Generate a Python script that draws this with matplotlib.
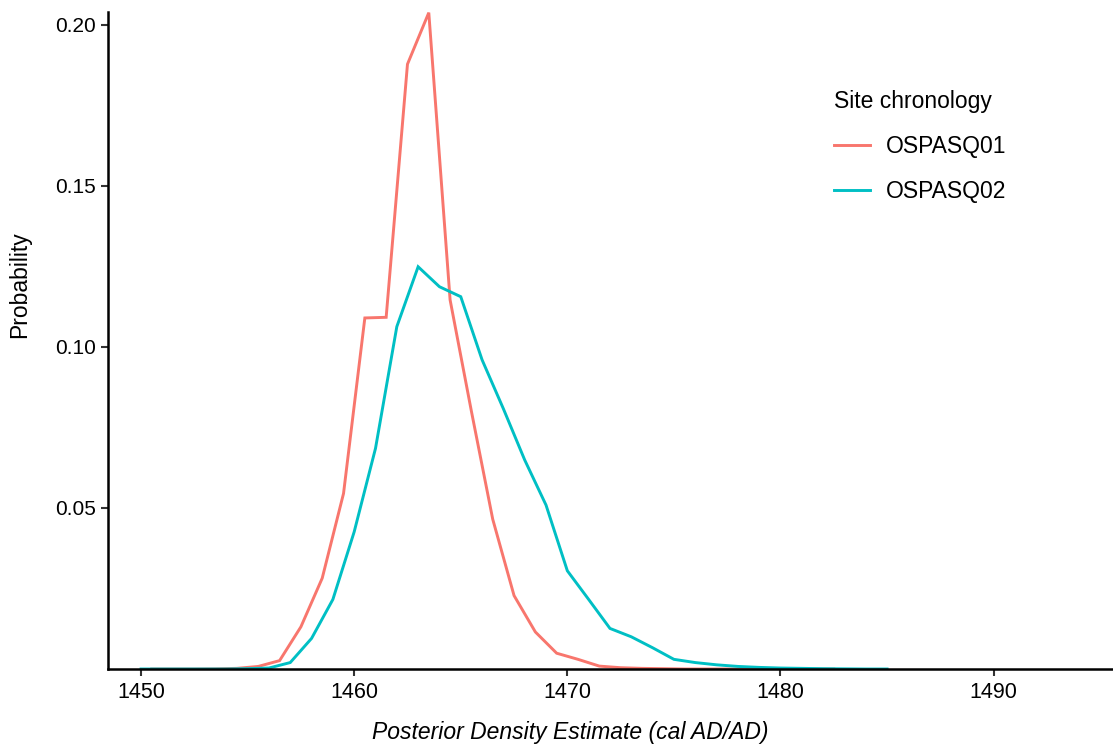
import matplotlib
matplotlib.use("Agg")
import matplotlib.pyplot as plt
from matplotlib.lines import Line2D

plt.rcParams['font.family'] = ['Liberation Sans', 'DejaVu Sans']

# OSPASQ01 (half-year grid)
x1 = [1450.5, 1451.5, 1452.5, 1453.5, 1454.5, 1455.5, 1456.5, 1457.5, 1458.5, 1459.5,
      1460.5, 1461.5, 1462.5, 1463.5, 1464.5, 1465.5, 1466.5, 1467.5, 1468.5, 1469.5,
      1470.5, 1471.5, 1472.5, 1473.5, 1474.5, 1475.5, 1476.5, 1477.5, 1478.5, 1479.5,
      1480.5, 1481.5, 1482.5]
y1 = [0.0, 0.0, 0.0, 0.00005, 0.0002, 0.0008, 0.0026, 0.0131, 0.0282, 0.0545,
      0.1090, 0.1092, 0.1878, 0.2038, 0.1146, 0.0800, 0.0465, 0.0228, 0.0115, 0.0049,
      0.0030, 0.0009, 0.0004, 0.0002, 0.0001, 0.0, 0.0, 0.0, 0.0, 0.0,
      0.0, 0.0, 0.0]

# OSPASQ02 (integer-year grid)
x2 = [1450, 1451, 1452, 1453, 1454, 1455, 1456, 1457, 1458, 1459,
      1460, 1461, 1462, 1463, 1464, 1465, 1466, 1467, 1468, 1469,
      1470, 1471, 1472, 1473, 1474, 1475, 1476, 1477, 1478, 1479,
      1480, 1481, 1482, 1483, 1484, 1485]
y2 = [0.0, 0.0, 0.0, 0.0, 0.0, 0.0001, 0.0003, 0.0020, 0.0095, 0.0216,
      0.0426, 0.0685, 0.1063, 0.1249, 0.1187, 0.1156, 0.0960, 0.0808, 0.0649, 0.0509,
      0.0305, 0.0216, 0.0126, 0.0100, 0.0066, 0.0030, 0.0020, 0.0013, 0.0008, 0.0005,
      0.0003, 0.0002, 0.0001, 0.00005, 0.0, 0.0]

series_names = ["OSPASQ01", "OSPASQ02"]
colors = ["#F8766D", "#00BFC4"]

x_ticks = [1450, 1460, 1470, 1480, 1490]
y_ticks = [0.05, 0.10, 0.15, 0.20]

W, H = 1113, 749
fig = plt.figure(figsize=(W / 100, H / 100), dpi=100)
ax = fig.add_axes([108 / W, 1 - 669 / H, (1113 - 108) / W, (669 - 12) / H])

ax.plot(x1, y1, color=colors[0], lw=2.1, solid_joinstyle='miter')
ax.plot(x2, y2, color=colors[1], lw=2.1, solid_joinstyle='miter')

ax.set_xlim(1448.45, 1495.6)
ax.set_ylim(0, 0.2040)

ax.set_xticks(x_ticks)
ax.set_xticklabels([str(t) for t in x_ticks])
ax.set_yticks(y_ticks)
ax.set_yticklabels(["0.05", "0.10", "0.15", "0.20"])

for s in ["top", "right"]:
    ax.spines[s].set_visible(False)
for s in ["left", "bottom"]:
    ax.spines[s].set_linewidth(1.8)
    ax.spines[s].set_color("black")
ax.tick_params(axis='both', length=5, width=1.5, color="#333333",
               labelcolor="black", pad=4)
ax.tick_params(axis='y', labelsize=15)
ax.tick_params(axis='x', labelsize=15.5)

ax.set_xlabel("Posterior Density Estimate (cal AD/AD)", fontsize=16.5,
              style='italic')
ax.set_ylabel("Probability", fontsize=16.5)
# label placement (axes fraction), as in the reference
ax.xaxis.set_label_coords((570 - 108) / 1005, -(733 - 669) / 657)
ax.yaxis.set_label_coords(-(108 - 20) / 1005, (669 - 285) / 657)
ax.xaxis.label.set_va('center')
ax.yaxis.label.set_va('center')

handles = [Line2D([0], [0], color=c, lw=2.1) for c in colors]
leg = ax.legend(handles, series_names, title="Site chronology",
                loc="upper left", bbox_to_anchor=(825 / W, 1 - 81 / H),
                bbox_transform=fig.transFigure, frameon=False,
                fontsize=16.5, title_fontsize=16.5, handlelength=1.55,
                handletextpad=0.72, labelspacing=0.95, borderaxespad=0)
leg._legend_box.align = "left"

fig.savefig("out.png", dpi=100)
